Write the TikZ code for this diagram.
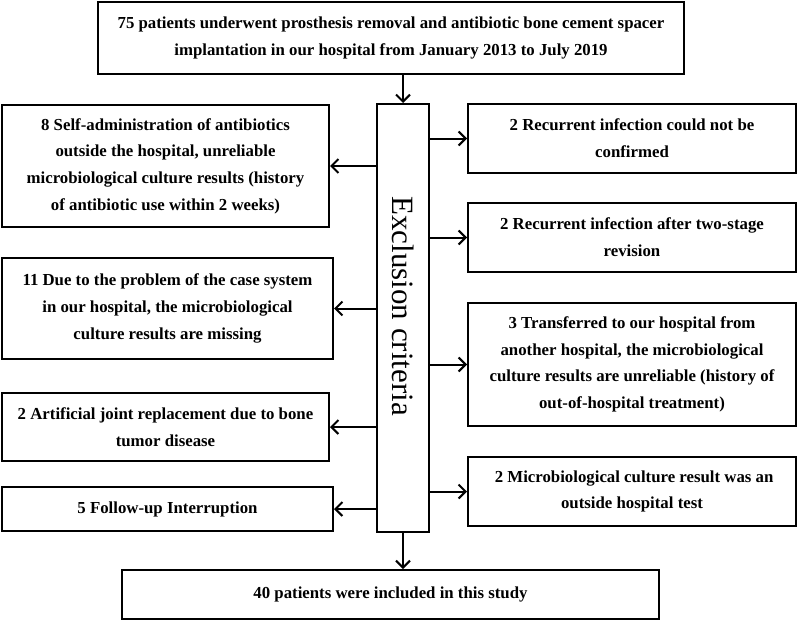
\documentclass[tikz,border=0pt]{standalone}
\usepackage{fontspec}
\setmainfont{Liberation Serif}
\usetikzlibrary{arrows.meta}
\usetikzlibrary{calc}

\begin{document}
\begin{tikzpicture}[x=1pt,y=-1pt,line width=2pt,
	box/.style={draw,align=center,inner sep=0pt,font=\fontsize{16.8}{26.7}\selectfont\bfseries},
	arr/.style={-{Straight Barb[length=7pt,width=14pt]}}]
	\useasboundingbox (0,0) rectangle (797,621);
	
	%TOP AND BOTTOM
	\node[box,minimum width=586,minimum height=72] (start) at (391,38) {75 patients underwent prosthesis removal and antibiotic bone cement spacer\\implantation in our hospital from January 2013 to July 2019};
	\node[box,minimum width=537,minimum height=49] (final) at (390.5,594.5) {40 patients were included in this study};
	
	%EXCLUSION
	\node[draw,minimum width=52,minimum height=428] (excl) at (403,318) {};
	\node[rotate=-90,font=\fontsize{31}{31}\selectfont] (excltext) at ([yshift=12pt]excl.center) {Exclusion criteria};
	
	%LEFT SIDE
	\node[box,minimum width=327,minimum height=122] (left1) at (165.5,166) {8 Self-administration of antibiotics\\outside the hospital, unreliable\\microbiological culture results (history\\of antibiotic use within 2 weeks)};
	\node[box,minimum width=331,minimum height=101] (left2) at (167.5,308.5) {11 Due to the problem of the case system\\in our hospital, the microbiological\\culture results are missing};
	\node[box,minimum width=327,minimum height=68] (left3) at (165.5,427) {2 Artificial joint replacement due to bone\\tumor disease};
	\node[box,minimum width=331,minimum height=44] (left4) at (167.5,509) {5 Follow-up Interruption};
	
	%RIGHT SIDE
	\node[box,minimum width=328,minimum height=69] (right1) at (632,138.5) {2 Recurrent infection could not be\\confirmed};
	\node[box,minimum width=328,minimum height=69] (right2) at (632,237.5) {2 Recurrent infection after two-stage\\revision};
	\node[box,minimum width=328,minimum height=123] (right3) at (632,364.5) {3 Transferred to our hospital from\\another hospital, the microbiological\\culture results are unreliable (history of\\out-of-hospital treatment)};
	\node[box,minimum width=328,minimum height=69] (right4) at (632,491.5) {\ 2 Microbiological culture result was an\\outside hospital test};
	
	%ARROWS
	\draw[arr] (start.south -| excl.north) -- (excl.north);
	\draw[arr] (excl.south) -- (final.north -| excl.south);
	\foreach \n in {left1,left2,left3,left4}{
		\draw[arr] (excl.west |- \n.east) -- (\n.east);
	}
	\foreach \n in {right1,right2,right3,right4}{
		\draw[arr] (excl.east |- \n.west) -- (\n.west);
	}
\end{tikzpicture}
\end{document}
